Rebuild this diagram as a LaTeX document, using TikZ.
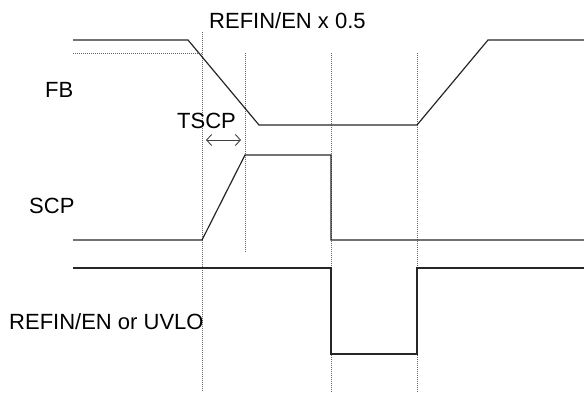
\documentclass[tikz,border=0pt]{standalone}
\usepackage{fontspec}
\setmainfont{Liberation Sans}
\usetikzlibrary{arrows.meta}
\tikzset{
  wave/.style={line width=1.2pt, draw=black!85},
  guide/.style={line width=0.6pt, draw=black!60, dash pattern=on 1pt off 1pt},
  lbl/.style={font=\fontsize{22}{26}\selectfont, inner sep=0pt, anchor=base west}
}
\begin{document}
\begin{tikzpicture}[x=1pt, y=-1pt]
\useasboundingbox (0,0) rectangle (584,393);

% Vertical guide lines
  \draw[guide] (202,32) -- (202,392);
  \draw[guide] (245,53) -- (245,253);
  \draw[guide] (331,53) -- (331,392);
  \draw[guide] (417,53) -- (417,392);

% FB
% Level marker at REFIN/EN x 0.5
  \draw[guide] (73,53) -- (202,53);
  \draw[wave] (73,40) -- (188,40) -- (259,125) -- (417,125) -- (488,40) -- (584,40);

% SCP
  \draw[wave] (73,240) -- (202,240) -- (245,155) -- (331,155) -- (331,240) -- (584,240);

% REFIN/EN or UVLO
  \draw[wave] (73,268) -- (331,268) -- (331,354) -- (417,354) -- (417,268) -- (584,268);

% Delay arrow
  \draw[{Straight Barb[length=5pt,width=11pt]}-{Straight Barb[length=5pt,width=11pt]}, line width=0.9pt, black!75] (206,140) -- (241,140);

% Labels
  \node[lbl] (ref) at (209,29) {REFIN/EN x 0.5};
  \node[lbl] (fb) at (45,98) {FB};
  \node[lbl] (tscp) at (177,129) {TSCP};
  \node[lbl] (scp) at (29,214) {SCP};
  \node[lbl] (uvlo) at (9,329) {REFIN/EN or UVLO};
\end{tikzpicture}
\end{document}
